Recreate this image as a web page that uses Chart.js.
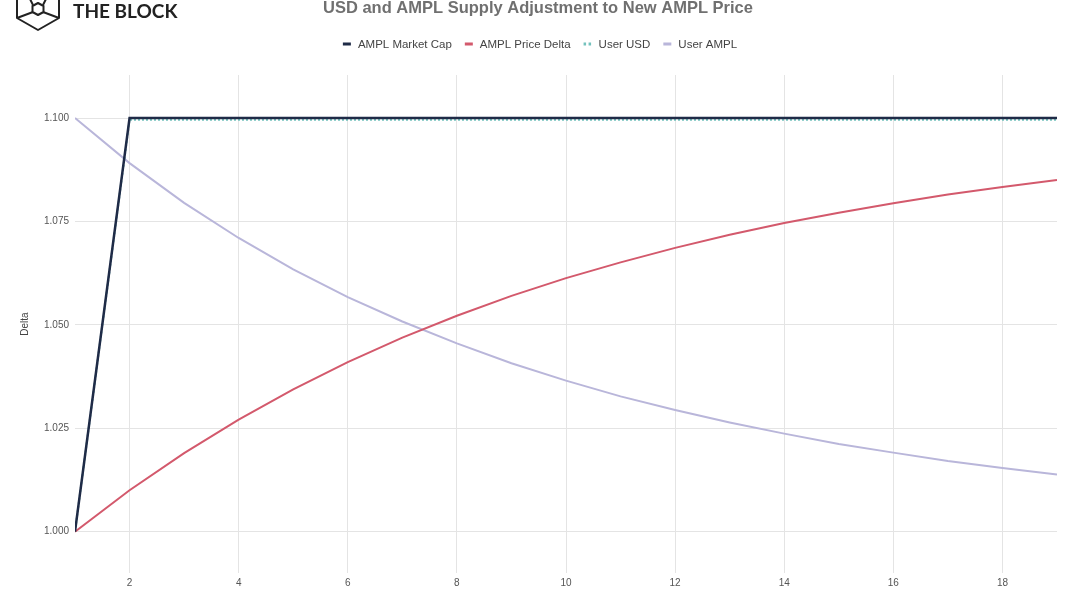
<!DOCTYPE html>
<html>
<head>
<meta charset="utf-8">
<script src="https://cdn.jsdelivr.net/npm/chart.js@4"></script>
<style>
  body { margin: 0; background: #fff; }
  #wrap { position: relative; width: 1080px; height: 599px; }
  #logo { position: absolute; left: 0; top: 0; width: 200px; height: 36px; }
  #logo span { position: absolute; left: 73px; top: -1px; font: bold 19px Lato, "Liberation Sans", sans-serif; color: #222; }
</style>
</head>
<body>
<div id="wrap">
  <canvas id="chart" width="1080" height="599"></canvas>
  <div id="logo">
    <svg width="70" height="36" style="position:absolute;left:0;top:0">
      <g fill="none" stroke="#222" stroke-width="2" stroke-linejoin="round">
        <path d="M38 -18 L59 -6 L59 18 L38 30 L17 18 L17 -6 Z"/>
        <path d="M38 3 L43.5 6 L43.5 12 L38 15 L32.5 12 L32.5 6 Z"/>
        <path d="M30 -1 L33 5 M46 -1 L43 5"/>
        <path d="M17 18 L33 12 M59 18 L43 12"/>
      </g>
    </svg>
    <span>THE BLOCK</span>
  </div>
</div>
<script>
const xValues = [1, 2, 3, 4, 5, 6, 7, 8, 9, 10, 11, 12, 13, 14, 15, 16, 17, 18, 19];
const marketCap = [1.000, 1.100, 1.100, 1.100, 1.100, 1.100, 1.100, 1.100, 1.100, 1.100, 1.100, 1.100, 1.100, 1.100, 1.100, 1.100, 1.100, 1.100, 1.100];
const priceDelta = [1.000, 1.010, 1.019, 1.0271, 1.0344, 1.0410, 1.0469, 1.0522, 1.0570, 1.0613, 1.0651, 1.0686, 1.0718, 1.0746, 1.0771, 1.0794, 1.0815, 1.0833, 1.0850];
const userUsd = [1.000, 1.0996, 1.0996, 1.0996, 1.0996, 1.0996, 1.0996, 1.0996, 1.0996, 1.0996, 1.0996, 1.0996, 1.0996, 1.0996, 1.0996, 1.0996, 1.0996, 1.0996, 1.0996];
const userAmpl = [1.100, 1.0891, 1.0795, 1.0710, 1.0634, 1.0567, 1.0508, 1.0455, 1.0407, 1.0365, 1.0327, 1.0294, 1.0264, 1.0237, 1.0212, 1.0191, 1.0171, 1.0154, 1.0138];
const xTicks = [2, 4, 6, 8, 10, 12, 14, 16, 18];
const yTicks = [1.000, 1.025, 1.050, 1.075, 1.100];

const FONT = '"Liberation Sans", Arial, sans-serif';
const pts = arr => arr.map((v, i) => ({ x: xValues[i], y: v }));

const series = [
  { label: 'AMPL Market Cap', data: marketCap, color: '#1f2b47', width: 2.5 },
  { label: 'AMPL Price Delta', data: priceDelta, color: '#d3596c', width: 2 },
  { label: 'User USD', data: userUsd, color: '#74c2bd', width: 2, dash: [2, 2] },
  { label: 'User AMPL', data: userAmpl, color: '#b9b6da', width: 2 }
];

// title + legend drawn on the canvas above the plot
const headerPlugin = {
  id: 'header',
  afterDraw(chart) {
    const ctx = chart.ctx;
    ctx.save();
    ctx.fillStyle = '#707070';
    ctx.font = 'normal bold 16.5px ' + FONT;
    ctx.textAlign = 'center';
    ctx.textBaseline = 'middle';
    ctx.fillText('USD and AMPL Supply Adjustment to New AMPL Price', 538, 8);

    ctx.font = '11.5px ' + FONT;
    ctx.textAlign = 'left';
    const items = chart.data.datasets.map(ds => ({ ds, w: 15 + ctx.measureText(ds.label).width }));
    const gap = 13;
    const total = items.reduce((s, it) => s + it.w, 0) + gap * (items.length - 1);
    let x = 540 - total / 2;
    const y = 44;
    items.forEach(it => {
      ctx.fillStyle = it.ds.borderColor;
      if (it.ds.borderDash) {
        ctx.fillRect(x, y - 1.5, 2.5, 3);
        ctx.fillRect(x + 5, y - 1.5, 2.5, 3);
      } else {
        ctx.fillRect(x, y - 1.5, 8, 3);
      }
      ctx.fillStyle = '#444';
      ctx.fillText(it.ds.label, x + 15, y + 0.5);
      x += it.w + gap;
    });
    ctx.restore();
  }
};

new Chart(document.getElementById('chart').getContext('2d'), {
  type: 'line',
  data: {
    datasets: series.map(s => ({
      label: s.label,
      data: pts(s.data),
      borderColor: s.color,
      backgroundColor: s.color,
      borderWidth: s.width,
      borderDash: s.dash,
      pointRadius: 0,
      tension: 0,
      fill: false
    }))
  },
  options: {
    responsive: false,
    animation: false,
    layout: { padding: { top: 75, right: 23, left: 0, bottom: 0 } },
    plugins: { legend: { display: false }, title: { display: false }, tooltip: { enabled: false } },
    scales: {
      x: {
        type: 'linear',
        min: 1,
        max: 19,
        afterBuildTicks: s => { s.ticks = xTicks.map(v => ({ value: v })); },
        afterFit: s => { s.height = 26; },
        grid: { color: '#e4e4e4', drawTicks: false },
        border: { display: false },
        ticks: { padding: 4, color: '#555', font: { size: 10, family: FONT } }
      },
      y: {
        min: 0.99,
        max: 1.1104,
        afterBuildTicks: s => { s.ticks = yTicks.map(v => ({ value: v })); },
        afterFit: s => { s.width = 75; },
        grid: { color: '#e4e4e4', drawTicks: false },
        border: { display: false },
        title: { display: true, text: 'Delta', color: '#444', font: { size: 10, family: FONT }, padding: { top: 19, bottom: 0 } },
        ticks: { padding: 6, color: '#555', font: { size: 10, family: FONT }, callback: v => v.toFixed(3) }
      }
    }
  },
  plugins: [headerPlugin]
});
</script>
</body>
</html>
